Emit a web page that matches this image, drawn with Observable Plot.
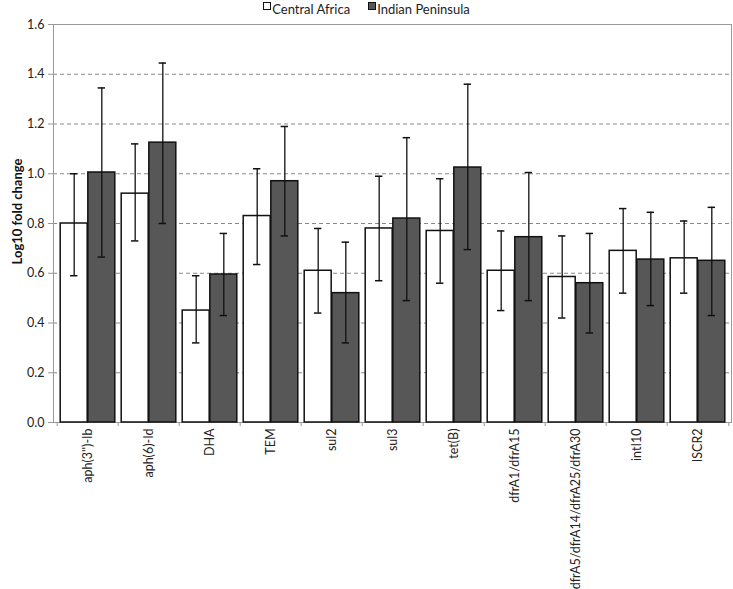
<!DOCTYPE html>
<html>
<head>
<meta charset="utf-8">
<script src="https://cdn.jsdelivr.net/npm/d3@7"></script>
<script src="https://cdn.jsdelivr.net/npm/@observablehq/plot@0.6"></script>
<style>
  html, body { margin: 0; padding: 0; background: white; }
  #legend { height: 16px; line-height: 16px; font-family: Lato, sans-serif; font-size: 13px; color: #222; text-align: center; padding-top: 1px; box-sizing: border-box; }
  #legend .item { display: inline-block; margin: 0 9px; }
  #legend .sw { display: inline-block; width: 6px; height: 6px; border: 1px solid #111; margin-right: 1px; vertical-align: 4px; }
</style>
</head>
<body>
<div id="legend"></div>
<div id="chart"></div>
<script>
const genes = ["aph(3'')-Ib", "aph(6)-Id", "DHA", "TEM", "sul2", "sul3", "tet(B)", "dfrA1/dfrA15", "dfrA5/dfrA14/dfrA25/dfrA30", "intI10", "ISCR2"];
const regions = ["Central Africa", "Indian Peninsula"];
const regionColors = ["#ffffff", "#575757"];

const caValue = [0.80, 0.92, 0.45, 0.83, 0.61, 0.78, 0.77, 0.61, 0.585, 0.69, 0.66];
const caLow   = [0.59, 0.73, 0.32, 0.635, 0.44, 0.57, 0.56, 0.45, 0.42, 0.52, 0.52];
const caHigh  = [1.00, 1.12, 0.59, 1.02, 0.78, 0.99, 0.98, 0.77, 0.75, 0.86, 0.81];

const ipValue = [1.005, 1.125, 0.595, 0.97, 0.52, 0.82, 1.025, 0.745, 0.56, 0.655, 0.65];
const ipLow   = [0.665, 0.80, 0.43, 0.75, 0.32, 0.49, 0.695, 0.49, 0.36, 0.47, 0.43];
const ipHigh  = [1.345, 1.445, 0.76, 1.19, 0.725, 1.145, 1.36, 1.005, 0.76, 0.845, 0.865];

const yTicks = [0, 0.2, 0.4, 0.6, 0.8, 1.0, 1.2, 1.4, 1.6];
const gridTicks = [0.2, 0.4, 0.6, 0.8, 1.0, 1.2, 1.4];
const yLabel = "Log10 fold change";

const ca = genes.map((g, i) => ({gene: g, value: caValue[i], lo: caLow[i], hi: caHigh[i]}));
const ip = genes.map((g, i) => ({gene: g, value: ipValue[i], lo: ipLow[i], hi: ipHigh[i]}));

// legend
const legend = document.getElementById("legend");
regions.forEach((r, i) => {
  const s = document.createElement("span");
  s.className = "item";
  s.innerHTML = `<span class="sw" style="background:${regionColors[i]}"></span>${r}`;
  legend.appendChild(s);
});

const W = 733, H = 573, mL = 53, mR = 2;
const step = (W - mL - mR) / genes.length;
const gap = 3.2;
const half = step / 2;
const off = (half - gap) / 2;      // bar centre offset from band centre
const capInset = (step - 8) / 2;

const chart = Plot.plot({
  width: W, height: H,
  marginTop: 8, marginBottom: 167, marginLeft: mL, marginRight: mR,
  style: {fontFamily: "Lato, sans-serif", fontSize: "12px", color: "#222", background: "white"},
  x: {domain: genes, padding: 0},
  y: {domain: [0, 1.6]},
  marks: [
    Plot.gridY(gridTicks, {stroke: "#888", strokeOpacity: 1, strokeDasharray: "4,3"}),
    Plot.frame({stroke: "#999"}),
    Plot.barY(ca, {x: "gene", y: "value", fill: regionColors[0], stroke: "#111", strokeWidth: 1.5, insetLeft: gap, insetRight: half}),
    Plot.barY(ip, {x: "gene", y: "value", fill: regionColors[1], stroke: "#111", strokeWidth: 1.5, insetLeft: half, insetRight: gap}),
    Plot.ruleX(ca, {x: "gene", y1: "lo", y2: "hi", dx: -off, stroke: "#111", strokeWidth: 1.3}),
    Plot.ruleX(ip, {x: "gene", y1: "lo", y2: "hi", dx: off, stroke: "#111", strokeWidth: 1.3}),
    Plot.tickY(ca, {x: "gene", y: "lo", dx: -off, insetLeft: capInset, insetRight: capInset, stroke: "#111", strokeWidth: 1.5}),
    Plot.tickY(ca, {x: "gene", y: "hi", dx: -off, insetLeft: capInset, insetRight: capInset, stroke: "#111", strokeWidth: 1.5}),
    Plot.tickY(ip, {x: "gene", y: "lo", dx: off, insetLeft: capInset, insetRight: capInset, stroke: "#111", strokeWidth: 1.5}),
    Plot.tickY(ip, {x: "gene", y: "hi", dx: off, insetLeft: capInset, insetRight: capInset, stroke: "#111", strokeWidth: 1.5}),
    Plot.ruleX(genes, {x: d => d, y1: 0, y2: 0, insetBottom: -4, dx: -half, stroke: "#999"}),
    Plot.ruleX(genes.slice(-1), {x: d => d, y1: 0, y2: 0, insetBottom: -4, dx: half, stroke: "#999"}),
    Plot.axisY({ticks: yTicks, tickFormat: d3.format(".1f"), tickSize: 5, tickPadding: 4, stroke: "#999", fill: "#222", fontSize: 12.5, label: null}),
    Plot.axisX({tickRotate: -90, tickSize: 0, tickPadding: 6, fontSize: 12.5, fill: "#222", label: null}),
    Plot.text([yLabel], {text: d => d, frameAnchor: "left", textAnchor: "middle", rotate: -90, dx: -36, dy: -12, fontWeight: "bold", fontSize: 13, fill: "#111"})
  ]
});
document.getElementById("chart").appendChild(chart);
</script>
</body>
</html>
